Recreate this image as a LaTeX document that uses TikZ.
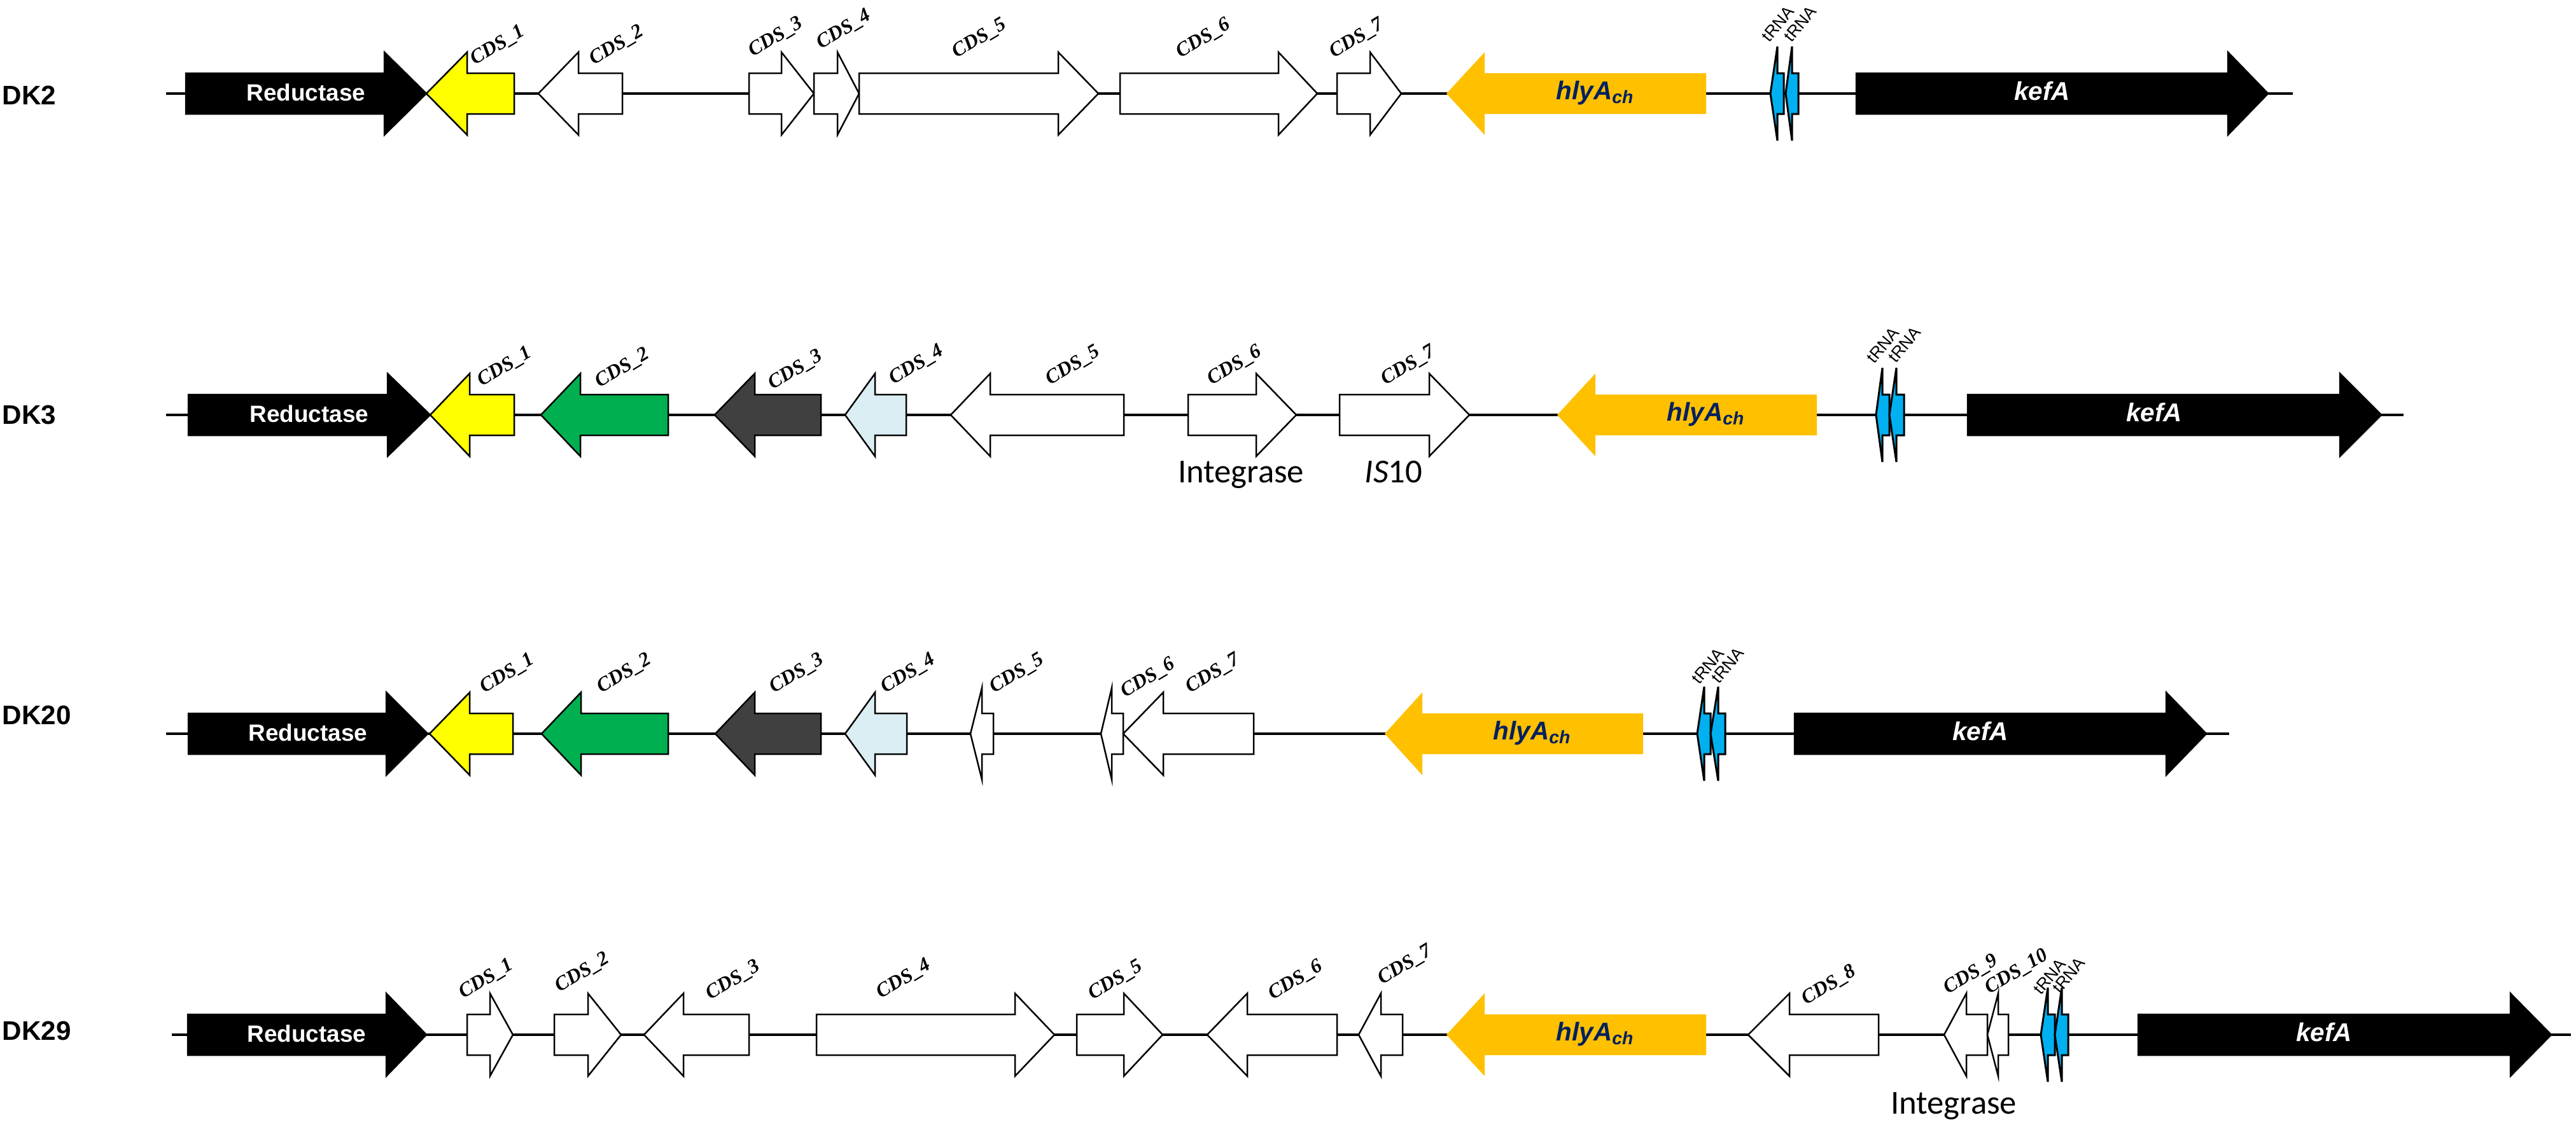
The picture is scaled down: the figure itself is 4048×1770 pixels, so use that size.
\documentclass[tikz,border=0pt]{standalone}
\usepackage{fontspec}
\setmainfont{Liberation Serif}
\setsansfont{Liberation Sans}
\newfontfamily\calibri{Carlito}

\definecolor{cdsyellow}{HTML}{FFFF00}
\definecolor{cdsgreen}{HTML}{00B050}
\definecolor{cdsgray}{HTML}{404040}
\definecolor{cdsblue}{HTML}{DAEEF3}
\definecolor{hlyorange}{HTML}{FFC000}
\definecolor{hlynavy}{HTML}{002060}
\definecolor{trnablue}{HTML}{00B0F0}

% gene arrow: [head half-height]{style}{row y}{body end}{head base}{tip}
\newcommand{\gene}[6][65]{%
  \draw[#2] (#4,{#3-32}) -- (#5,{#3-32}) -- (#5,{#3-#1}) -- (#6,#3)
    -- (#5,{#3+#1}) -- (#5,{#3+32}) -- (#4,{#3+32}) -- cycle;}

\begin{document}
\begin{tikzpicture}[
    x=0.1mm, y=-0.1mm,
    backbone/.style={line width=0.4mm},
    cds/.style={draw=black, fill=white, line width=0.25mm, line join=miter},
    dark/.style={draw=black, fill=black, line width=0.25mm},
    hly/.style={fill=hlyorange, draw=none},
    trna/.style={draw=black, fill=trnablue, line width=0.3mm},
    strain/.style={font=\sffamily\bfseries\fontsize{12}{12}\selectfont, anchor=west, inner sep=0},
    cdslab/.style={font=\bfseries\itshape\fontsize{9}{9}\selectfont, rotate=31, anchor=base west, inner sep=0},
    trnalab/.style={font=\sffamily\fontsize{7.5}{7.5}\selectfont, rotate=50, anchor=base west, inner sep=0},
    genelab/.style={font=\sffamily\bfseries\fontsize{10.5}{10.5}\selectfont, text=white, anchor=base, inner sep=0},
    keflab/.style={font=\sffamily\bfseries\itshape\fontsize{11.5}{11.5}\selectfont, text=white, anchor=base, inner sep=0},
    hlylab/.style={font=\sffamily\bfseries\itshape\fontsize{11.5}{11.5}\selectfont, text=hlynavy, anchor=base, inner sep=0},
    note/.style={font=\calibri\fontsize{15}{15}\selectfont, anchor=base, inner sep=0},
]
\useasboundingbox (0,0) rectangle (4048,1770);

% DK2
\node[strain] (dk2) at (3,150) {DK2};
\coordinate (dk2s) at (261,147);
\coordinate (dk2e) at (3603,147);
\draw[backbone] (dk2s) -- (dk2e);
\gene{dark}{147}{292}{604}{670}
\gene{cds,fill=cdsyellow}{147}{808}{734}{670}
\gene{cds}{147}{978}{909}{846}
\gene{cds}{147}{1177}{1228}{1279}
\gene{cds}{147}{1279}{1316}{1350}
\gene{cds}{147}{1350}{1663}{1726}
\gene{cds}{147}{1760}{2009}{2070}
\gene{cds}{147}{2101}{2153}{2202}
\gene{hly}{147}{2681}{2333}{2273}
\gene[74]{trna}{147}{2803}{2793}{2782}
\gene[74]{trna}{147}{2826}{2816}{2806}
\gene{dark}{147}{2917}{3501}{3564}
\node[genelab] (dk2-red) at (481,158) {Reductase};
\node[hlylab] (dk2-hly) at (2507,156) {hlyA\textsubscript{ch}};
\node[keflab] (dk2-kef) at (3209,157) {kefA};
\node[cdslab] (dk2-c1) at (746,103) {CDS\_1};
\node[cdslab] (dk2-c2) at (933,103) {CDS\_2};
\node[cdslab] (dk2-c3) at (1183,90) {CDS\_3};
\node[cdslab] (dk2-c4) at (1290,78) {CDS\_4};
\node[cdslab] (dk2-c5) at (1503,92) {CDS\_5};
\node[cdslab] (dk2-c6) at (1855,92) {CDS\_6};
\node[cdslab] (dk2-c7) at (2096,92) {CDS\_7};
\node[trnalab] (dk2-t1) at (2780,68) {tRNA};
\node[trnalab] (dk2-t2) at (2815,68) {tRNA};

% DK3
\node[strain] (dk3) at (3,652) {DK3};
\coordinate (dk3s) at (261,652);
\coordinate (dk3e) at (3777,652);
\draw[backbone] (dk3s) -- (dk3e);
\gene{dark}{652}{296}{609}{676}
\gene{cds,fill=cdsyellow}{652}{808}{738}{676}
\gene{cds,fill=cdsgreen}{652}{1050}{912}{850}
\gene{cds,fill=cdsgray}{652}{1290}{1186}{1123}
\gene{cds,fill=cdsblue}{652}{1424}{1375}{1328}
\gene{cds}{652}{1766}{1556}{1494}
\gene{cds}{652}{1867}{1974}{2037}
\gene{cds}{652}{2105}{2246}{2309}
\gene{hly}{652}{2855}{2507}{2447}
\gene[74]{trna}{652}{2969}{2958}{2948}
\gene[74]{trna}{652}{2992}{2980}{2969}
\gene{dark}{652}{3092}{3677}{3742}
\node[genelab] (dk3-red) at (486,663) {Reductase};
\node[hlylab] (dk3-hly) at (2681,661) {hlyA\textsubscript{ch}};
\node[keflab] (dk3-kef) at (3385,662) {kefA};
\node[cdslab] (dk3-c1) at (757,608) {CDS\_1};
\node[cdslab] (dk3-c2) at (942,610) {CDS\_2};
\node[cdslab] (dk3-c3) at (1214,613) {CDS\_3};
\node[cdslab] (dk3-c4) at (1404,605) {CDS\_4};
\node[cdslab] (dk3-c5) at (1650,606) {CDS\_5};
\node[cdslab] (dk3-c6) at (1904,606) {CDS\_6};
\node[cdslab] (dk3-c7) at (2177,606) {CDS\_7};
\node[trnalab] (dk3-t1) at (2945,573) {tRNA};
\node[trnalab] (dk3-t2) at (2979,572) {tRNA};
\node[note] (dk3-int) at (1950,758) {Integrase};
\node[note] (dk3-is) at (2190,758) {\textit{IS}10};

% DK20
\node[strain] (dk20) at (3,1124) {DK20};
\coordinate (dk20s) at (261,1153);
\coordinate (dk20e) at (3503,1153);
\draw[backbone] (dk20s) -- (dk20e);
\gene{dark}{1153}{296}{607}{672}
\gene{cds,fill=cdsyellow}{1153}{806}{738}{675}
\gene{cds,fill=cdsgreen}{1153}{1050}{913}{851}
\gene{cds,fill=cdsgray}{1153}{1290}{1186}{1124}
\gene{cds,fill=cdsblue}{1153}{1425}{1375}{1328}
\gene[72]{cds}{1153}{1561}{1543}{1525}
\gene[72]{cds}{1153}{1765}{1747}{1730}
\gene{cds}{1153}{1970}{1828}{1765}
\gene{hly}{1153}{2582}{2235}{2176}
\gene[74]{trna}{1153}{2688}{2678}{2667}
\gene[74]{trna}{1153}{2711}{2700}{2688}
\gene{dark}{1153}{2820}{3404}{3467}
\node[genelab] (dk20-red) at (484,1164) {Reductase};
\node[hlylab] (dk20-hly) at (2408,1162) {hlyA\textsubscript{ch}};
\node[keflab] (dk20-kef) at (3112,1163) {kefA};
\node[cdslab] (dk20-c1) at (761,1090) {CDS\_1};
\node[cdslab] (dk20-c2) at (945,1090) {CDS\_2};
\node[cdslab] (dk20-c3) at (1216,1090) {CDS\_3};
\node[cdslab] (dk20-c4) at (1391,1090) {CDS\_4};
\node[cdslab] (dk20-c5) at (1562,1090) {CDS\_5};
\node[cdslab] (dk20-c6) at (1768,1097) {CDS\_6};
\node[cdslab] (dk20-c7) at (1870,1090) {CDS\_7};
\node[trnalab] (dk20-t1) at (2670,1077) {tRNA};
\node[trnalab] (dk20-t2) at (2701,1076) {tRNA};

% DK29
\node[strain] (dk29) at (3,1620) {DK29};
\coordinate (dk29s) at (270,1626);
\coordinate (dk29e) at (4040,1626);
\draw[backbone] (dk29s) -- (dk29e);
\gene{dark}{1626}{295}{607}{670}
\gene{cds}{1626}{734}{770}{806}
\gene{cds}{1626}{871}{924}{976}
\gene{cds}{1626}{1177}{1074}{1012}
\gene{cds}{1626}{1283}{1595}{1657}
\gene{cds}{1626}{1692}{1766}{1827}
\gene{cds}{1626}{2101}{1960}{1897}
\gene{cds}{1626}{2204}{2170}{2135}
\gene{hly}{1626}{2681}{2333}{2273}
\gene{cds}{1626}{2952}{2812}{2747}
\gene{cds}{1626}{3123}{3090}{3055}
\gene{cds}{1626}{3156}{3140}{3123}
\gene[74]{trna}{1626}{3229}{3218}{3207}
\gene[74]{trna}{1626}{3250}{3240}{3229}
\gene{dark}{1626}{3360}{3945}{4009}
\node[genelab] (dk29-red) at (482,1637) {Reductase};
\node[hlylab] (dk29-hly) at (2507,1635) {hlyA\textsubscript{ch}};
\node[keflab] (dk29-kef) at (3652,1636) {kefA};
\node[cdslab] (dk29-c1) at (728,1570) {CDS\_1};
\node[cdslab] (dk29-c2) at (879,1560) {CDS\_2};
\node[cdslab] (dk29-c3) at (1116,1572) {CDS\_3};
\node[cdslab] (dk29-c4) at (1384,1570) {CDS\_4};
\node[cdslab] (dk29-c5) at (1717,1572) {CDS\_5};
\node[cdslab] (dk29-c6) at (2000,1572) {CDS\_6};
\node[cdslab] (dk29-c7) at (2172,1548) {CDS\_7};
\node[cdslab] (dk29-c8) at (2838,1580) {CDS\_8};
\node[cdslab] (dk29-c9) at (3061,1563) {CDS\_9};
\node[cdslab] (dk29-c10) at (3126,1563) {CDS\_10};
\node[trnalab] (dk29-t1) at (3207,1565) {tRNA};
\node[trnalab] (dk29-t2) at (3237,1563) {tRNA};
\node[note] (dk29-int) at (3070,1750) {Integrase};
\end{tikzpicture}
\end{document}
